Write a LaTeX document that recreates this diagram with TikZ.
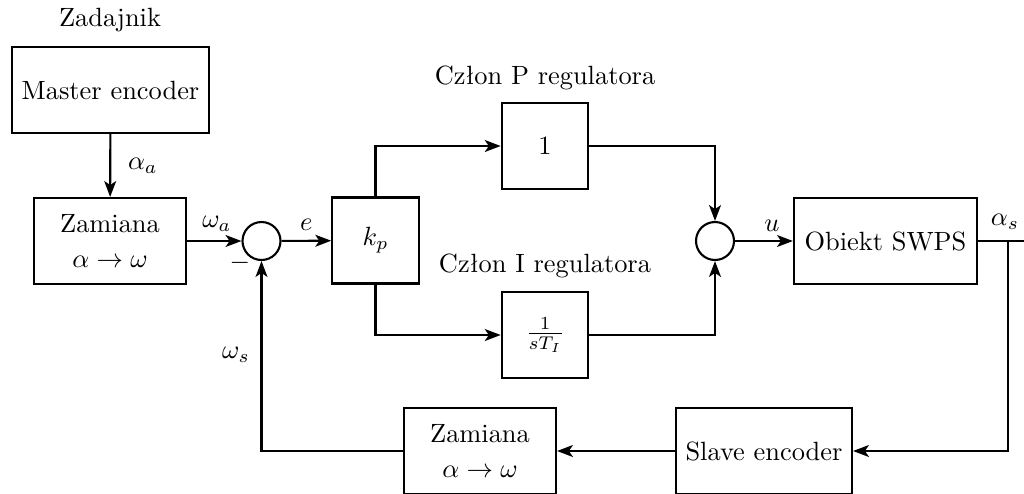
\documentclass[tikz,border=0pt]{standalone}
\usetikzlibrary{arrows.meta}
\begin{document}
\begin{tikzpicture}[x=0.379pt,y=-0.379pt,line width=0.8pt,
  blk/.style={draw,line width=0.8pt,minimum height=32.6pt,inner sep=2pt,align=center},
  sumc/.style={draw,circle,line width=0.8pt,minimum size=14.4pt,inner sep=0pt},
  arr/.style={-{Stealth[length=6pt,width=4.5pt,inset=1.5pt]}},
  lbl/.style={inner sep=0pt}]
\clip (0,0) rectangle (1024,493);
\node[lbl] (zad) at (110,20) {Zadajnik};
\node[blk,minimum width=74.7pt] (me) at (110.5,90) {Master encoder};
\node[blk,minimum width=57.6pt] (za1) at (110,241) {Zamiana\\[1pt] $\alpha\to\omega$};
\node[sumc] (s1) at (261.5,241) {};
\node[blk,minimum width=32.8pt] (kp) at (375.5,240.5) {$k_p$};
\node[blk,minimum width=32.8pt] (p1) at (545,146) {1};
\node[blk,minimum width=32.8pt] (i1) at (545,335) {$\frac{1}{sT_I}$};
\node[lbl] (cp) at (545,78) {Człon P regulatora};
\node[lbl] (ci) at (545,266) {Człon I regulatora};
\node[sumc] (s2) at (715,241) {};
\node[blk,minimum width=69.4pt] (obj) at (885.5,241) {Obiekt SWPS};
\node[blk,minimum width=66.7pt] (slave) at (764,451) {Slave encoder};
\node[blk,minimum width=57.6pt] (za2) at (480,451) {Zamiana\\[1pt] $\alpha\to\omega$};
\coordinate (br) at (1008,241);
\coordinate (out) at (1040,241);
\draw[arr] (me) -- node[right,xshift=3pt] {$\alpha_a$} (za1);
\draw[arr] (za1) -- node[above,xshift=1pt] {$\omega_a$} (s1);
\node[lbl] (minus) at (240,263) {$-$};
\draw[arr] (s1) -- node[above] {$e$} (kp);
\draw[arr] (kp.north) |- (p1);
\draw[arr] (kp.south) |- (i1);
\draw[arr] (p1) -| (s2);
\draw[arr] (i1) -| (s2);
\draw[arr] (s2) -- node[above,xshift=3pt] {$u$} (obj);
\draw (obj) -- (out);
\node[lbl] (as) at (1005,222) {$\alpha_s$};
\draw[arr] (br) |- (slave);
\draw[arr] (slave) -- (za2);
\draw[arr] (za2) -| (s1);
\node[lbl] (ws) at (236,355) {$\omega_s$};
\end{tikzpicture}
\end{document}
